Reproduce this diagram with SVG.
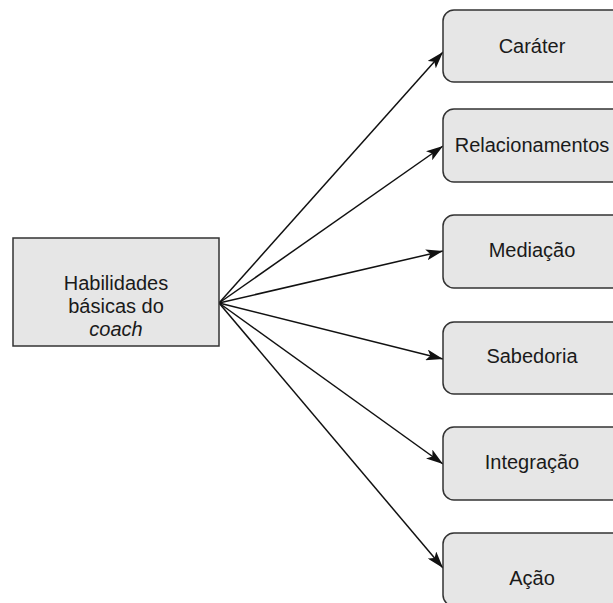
<svg xmlns="http://www.w3.org/2000/svg" width="613" height="603" viewBox="0 0 613 603">
<style>
.box{fill:#e6e6e6;stroke:#333;stroke-width:1.5}
.t{font-family:"Liberation Sans",Arial,sans-serif;font-size:20px;fill:#1a1a1a;text-anchor:middle}
.c{stroke:#111;stroke-width:1.5;fill:none;marker-end:url(#ah)}
</style>
<defs>
<marker id="ah" viewBox="0 0 17 11" refX="17" refY="5.5" markerWidth="17" markerHeight="11" markerUnits="userSpaceOnUse" orient="auto">
<path d="M0,0 L17,5.5 L0,11 L4,5.5 Z" fill="#111"/>
</marker>
</defs>
<rect width="613" height="603" fill="#fff"/>
<g id="connectors">
<line class="c" x1="219" y1="303" x2="443" y2="52"/>
<line class="c" x1="219" y1="303" x2="443" y2="146"/>
<line class="c" x1="219" y1="303" x2="443" y2="251"/>
<line class="c" x1="219" y1="303" x2="443" y2="359"/>
<line class="c" x1="219" y1="303" x2="443" y2="464"/>
<line class="c" x1="219" y1="303" x2="443" y2="568"/>
</g>
<g id="hab">
<rect class="box" x="13" y="238" width="206" height="108"/>
<text class="t" x="116" y="290">Habilidades</text>
<text class="t" x="116" y="313">básicas do</text>
<text class="t" x="116" y="336" font-style="italic">coach</text>
</g>
<g id="carater"><rect class="box" x="443" y="10" width="182" height="72" rx="11"/><text class="t" x="532" y="53">Caráter</text></g>
<g id="relac"><rect class="box" x="443" y="109" width="182" height="73" rx="11"/><text class="t" x="532" y="152">Relacionamentos</text></g>
<g id="mediacao"><rect class="box" x="443" y="215" width="182" height="73" rx="11"/><text class="t" x="532" y="257">Mediação</text></g>
<g id="sabedoria"><rect class="box" x="443" y="322" width="182" height="72" rx="11"/><text class="t" x="532" y="363">Sabedoria</text></g>
<g id="integracao"><rect class="box" x="443" y="427" width="182" height="73" rx="11"/><text class="t" x="532" y="469">Integração</text></g>
<g id="acao"><rect class="box" x="443" y="533" width="182" height="73" rx="11"/><text class="t" x="532" y="585">Ação</text></g>
</svg>
